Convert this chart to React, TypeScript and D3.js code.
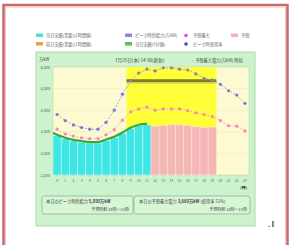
import React from "react";
import * as d3 from "d3";

// hours on the x axis
const hours = d3.range(24).map(String);
const yTicks = [2500, 3000, 3500, 4000, 4500, 5000];

// actual demand (cyan bars, 0-11h) and forecast demand (pink bars, 12-19h)
const actual = [3410, 3340, 3290, 3260, 3240, 3240, 3300, 3360, 3460, 3570, 3640, 3660];
const forecast = [3630, 3650, 3660, 3660, 3640, 3620, 3600, 3610];
// dashed lines
const upper = [3900, 3760, 3660, 3600, 3560, 3560, 3720, 4000, 4370, 4680, 4860, 4950,
  4910, 4980, 4980, 4950, 4930, 4840, 4740, 4700, 4600, 4450, 4350, 4160];
const lower = [3560, 3450, 3400, 3360, 3340, 3340, 3430, 3550, 3770, 3960, 4030, 4070,
  4000, 4030, 4030, 4030, 3990, 3940, 3900, 3850, 3760, 3640, 3630, 3520];
const supply = 4680;
const peakStart = 9;
const peakEnd = 19;

const legendItems = [
  { label: "当日実績(需要)(1時間値)", color: "#40e0e0", kind: "rect", col: 0, row: 0 },
  { label: "前日実績(需要)(1時間値)", color: "#e8a040", kind: "rect", col: 0, row: 1 },
  { label: "ピーク時供給力(万kW)", color: "#8888d8", kind: "rect", col: 1, row: 0 },
  { label: "当日実績(5分値)", color: "#50c850", kind: "rect", col: 1, row: 1 },
  { label: "予想最大", color: "#ee44ee", kind: "dot", col: 2, row: 0 },
  { label: "ピーク時使用率", color: "#4444dd", kind: "dot", col: 2, row: 1 },
  { label: "予想", color: "#f4b4b4", kind: "rect", col: 3, row: 0 },
];
const legendX = [36, 125, 183, 231];

const font = "'Noto Sans CJK JP', sans-serif";

export default function App() {
  const x = d3.scaleBand().domain(hours).range([53, 249]).padding(0);
  const y = d3.scaleLinear().domain([2500, 5000]).range([175, 67]);
  const bw = x.bandwidth();
  const cx = (i: number) => (x(String(i)) as number) + bw / 2;

  const dashLine = d3.line<number>().x((_, i) => cx(i)).y((d) => y(d));
  // green line runs from the left edge of the plot along the bar tops
  const greenLine = d3.line<number>()
    .x((_, i) => (i === 0 ? 53 : cx(i - 1)))
    .y((d) => y(d) - 1)
    .curve(d3.curveMonotoneX);

  return (
    <svg width={291} height={245} style={{ position: "absolute", left: 0, top: 0 }} fontFamily={font}>
      <rect x={0} y={0} width={291} height={245} fill="#fff" />
      {/* outer frame */}
      <rect x={3.5} y={5} width={284} height={250} fill="none" stroke="#c86a6a" strokeWidth={2.5} />
      <rect x={5.5} y={7} width={280} height={250} fill="none" stroke="#f0c4c4" strokeWidth={1} />

      {/* legend */}
      {legendItems.map((d) => {
        const lx = legendX[d.col];
        const ly = 35.5 + d.row * 8.5;
        return (
          <g key={d.label}>
            {d.kind === "rect" ? (
              <rect x={lx} y={ly - 2} width={7} height={3.5} fill={d.color} />
            ) : (
              <circle cx={lx + 3} cy={ly} r={1.8} fill={d.color} />
            )}
            <text x={lx + 10} y={ly + 1.5} fontSize={4.2} fill="#666">{d.label}</text>
          </g>
        );
      })}

      {/* green panel */}
      <rect x={36} y={52} width={219} height={174} fill="#cdf3cd" stroke="#a8dca8" strokeWidth={1} />
      <text x={39} y={60.5} fontSize={4.2} fill="#444">万kW</text>
      <text x={115} y={62} fontSize={4.6} fill="#444">7月25日(木) 14:30(更新)</text>
      <text x={190} y={62} fontSize={4.2} fill="#444">・ 予想最大電力(万kW) 時刻</text>

      {/* plot background */}
      <rect x={53} y={67} width={196} height={108} fill="#fdfad2" stroke="#b8dcb0" strokeWidth={0.6} />
      <rect x={x(String(peakStart))} y={67} width={(x(String(peakEnd)) as number) + bw - (x(String(peakStart)) as number)} height={108} fill="#ffff38" />
      {yTicks.map((t) => (
        <g key={t}>
          <line x1={53} x2={249} y1={y(t)} y2={y(t)} stroke="#e8e4b0" strokeWidth={0.4} />
          <text x={50} y={y(t) + 1.5} fontSize={3.8} textAnchor="end" fill="#555">{d3.format(",")(t)}</text>
        </g>
      ))}

      {/* bars */}
      {actual.map((v, i) => (
        <rect key={"a" + i} x={x(String(i))} y={y(v)} width={bw} height={175 - y(v)} fill="#3ee6e6" stroke="#d8fafa" strokeWidth={0.5} />
      ))}
      {forecast.map((v, i) => (
        <rect key={"f" + i} x={x(String(i + 12))} y={y(v)} width={bw} height={175 - y(v)} fill="#f5b6b6" stroke="#fde4e4" strokeWidth={0.5} />
      ))}
      <path d={greenLine([actual[0] + 40, ...actual]) || ""} fill="none" stroke="#3aa83a" strokeWidth={2.2} />

      {/* supply capacity */}
      <line x1={x(String(peakStart))} x2={(x(String(peakEnd)) as number) + bw} y1={y(supply)} y2={y(supply)} stroke="#7e7a28" strokeWidth={3} />
      <line x1={x(String(peakStart))} x2={(x(String(peakEnd)) as number) + bw} y1={y(supply) + 2.3} y2={y(supply) + 2.3} stroke="#c8c060" strokeWidth={0.8} />

      {/* dashed lines */}
      <path d={dashLine(upper) || ""} fill="none" stroke="#9a9ae0" strokeWidth={0.9} strokeDasharray="2,1.5" />
      <path d={dashLine(lower) || ""} fill="none" stroke="#f29ac8" strokeWidth={0.9} strokeDasharray="2,1.5" />
      {upper.map((v, i) => (
        <circle key={"u" + i} cx={cx(i)} cy={y(v)} r={1.6} fill={i >= peakStart && i <= peakEnd ? "#8a84b8" : "#7777d4"} />
      ))}
      {lower.map((v, i) => (
        <circle key={"l" + i} cx={cx(i)} cy={y(v)} r={1.6} fill="#f28ab8" />
      ))}

      {/* x axis */}
      {hours.map((h, i) => (
        <g key={h}>
          <line x1={cx(i)} x2={cx(i)} y1={175} y2={176.5} stroke="#999" strokeWidth={0.4} />
          <text x={cx(i)} y={182} fontSize={3.4} textAnchor="middle" fill="#666">{h}</text>
        </g>
      ))}
      <text x={247} y={189} fontSize={3.8} textAnchor="end" fill="#333" fontWeight="bold">(時)</text>

      {/* bottom boxes */}
      <rect x={42} y={196} width={91} height={18} rx={2} fill="#d6f6d6" stroke="#8aa88a" strokeWidth={0.7} />
      <text x={46} y={203} fontSize={4.2} fill="#444">本日のピーク時供給力 <tspan fontWeight="bold">5,050万kW</tspan></text>
      <text x={129} y={211} fontSize={4} textAnchor="end" fill="#444">予想時刻 14時〜15時</text>
      <rect x={134} y={196} width={116} height={18} rx={2} fill="#d6f6d6" stroke="#8aa88a" strokeWidth={0.7} />
      <text x={139} y={203} fontSize={4.2} fill="#444">本日の予想最大電力 <tspan fontWeight="bold">3,660万kW</tspan> (使用率 72%)</text>
      <text x={247} y={211} fontSize={4} textAnchor="end" fill="#444">予想時刻 14時〜15時</text>

      <text x={268} y={227} fontSize={7} fill="#222" fontWeight="bold">. I</text>
    </svg>
  );
}
